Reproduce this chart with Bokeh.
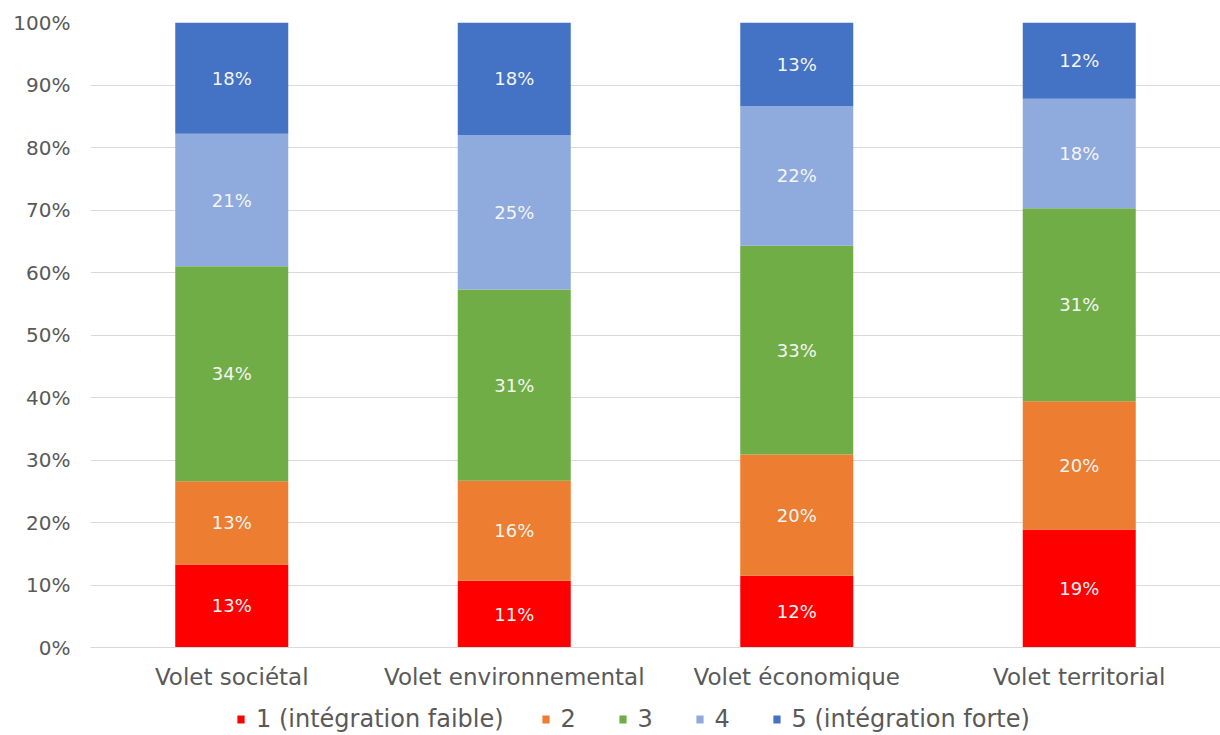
import numpy as np
from bokeh.plotting import figure
from bokeh.layouts import column
from bokeh.models import ColumnDataSource, Legend, LegendItem, NumeralTickFormatter, FixedTicker
from bokeh.core.properties import value
from bokeh.embed import file_html
from bokeh.resources import INLINE

categories = ["Volet sociétal", "Volet environnemental", "Volet économique", "Volet territorial"]
series_names = ["1 (intégration faible)", "2", "3", "4", "5 (intégration forte)"]
level1 = [0.133, 0.107, 0.115, 0.189]
level2 = [0.133, 0.160, 0.194, 0.205]
level3 = [0.344, 0.306, 0.334, 0.309]
level4 = [0.212, 0.247, 0.223, 0.175]
level5 = [0.178, 0.180, 0.134, 0.122]
labels1 = ["13%", "11%", "12%", "19%"]
labels2 = ["13%", "16%", "20%", "20%"]
labels3 = ["34%", "31%", "33%", "31%"]
labels4 = ["21%", "25%", "22%", "18%"]
labels5 = ["18%", "18%", "13%", "12%"]
y_ticks = [0.0, 0.1, 0.2, 0.3, 0.4, 0.5, 0.6, 0.7, 0.8, 0.9, 1.0]

colors = ["#ff0000", "#ed7d31", "#70ad47", "#8faadc", "#4472c4"]
keys = ["l1", "l2", "l3", "l4", "l5"]
levels = [level1, level2, level3, level4, level5]
label_lists = [labels1, labels2, labels3, labels4, labels5]

data = {"cat": categories}
for k, v in zip(keys, levels):
    data[k] = v
source = ColumnDataSource(data)

FONT = "DejaVu Sans"
GREY = "#595959"

p = figure(x_range=categories, y_range=(0, 1),
           frame_width=1130, frame_height=625,
           output_backend="svg", toolbar_location=None,
           min_border_left=90, min_border_right=0, min_border_top=22,
           min_border_bottom=48)
p.outline_line_color = None
p.background_fill_color = "white"

renderers = p.vbar_stack(keys, x="cat", width=0.4, color=colors, line_color=None, source=source)

# segment labels
arr = np.array(levels)
cum = np.cumsum(arr, axis=0)
for i in range(len(keys)):
    mids = cum[i] - arr[i] / 2.0
    s = ColumnDataSource(dict(x=categories, y=list(mids), t=label_lists[i]))
    p.text(x="x", y="y", text="t", source=s, text_align="center", text_baseline="middle",
           text_color="#f5f5f5", text_font=value(FONT), text_font_size="18px")

# axes
p.yaxis.ticker = FixedTicker(ticks=y_ticks)
p.yaxis.formatter = NumeralTickFormatter(format="0%")
p.yaxis.axis_line_color = None
p.yaxis.major_tick_line_color = None
p.yaxis.minor_tick_line_color = None
p.yaxis.major_tick_out = 0
p.yaxis.major_label_standoff = 20
p.yaxis.major_label_text_font = FONT
p.yaxis.major_label_text_font_size = "20px"
p.yaxis.major_label_text_color = GREY

p.xaxis.axis_line_color = "#d9d9d9"
p.xaxis.major_tick_line_color = None
p.xaxis.major_tick_out = 0
p.xaxis.major_label_standoff = 16
p.xaxis.major_label_text_font = FONT
p.xaxis.major_label_text_font_size = "23px"
p.xaxis.major_label_text_color = GREY

p.xgrid.grid_line_color = None
p.ygrid.grid_line_color = "#d9d9d9"
p.ygrid.grid_line_width = 1

# legend strip below the chart (its bars lie outside its visible y range)
pl = figure(width=1220, height=38, x_range=categories, y_range=(2, 3),
            output_backend="svg", toolbar_location=None,
            x_axis_type=None, y_axis_type=None,
            min_border_left=0, min_border_right=0, min_border_top=0, min_border_bottom=0)
pl.outline_line_color = None
pl.xgrid.grid_line_color = None
pl.ygrid.grid_line_color = None
legend_renderers = [pl.vbar(x="cat", top=k, width=0.4, color=c, line_color=None, source=source)
                    for k, c in zip(keys, colors)]
items = [LegendItem(label=n, renderers=[r]) for n, r in zip(series_names, legend_renderers)]
legend = Legend(items=items, orientation="horizontal", location=(146, 0),
                label_text_font=FONT, label_text_font_size="24px", label_text_color=GREY,
                glyph_width=9, glyph_height=10, label_standoff=11, spacing=37,
                padding=0, margin=0, border_line_color=None, background_fill_alpha=0)
pl.add_layout(legend, "center")

layout = column(p, pl, spacing=0)
open("out.html", "w").write(file_html(layout, INLINE))
